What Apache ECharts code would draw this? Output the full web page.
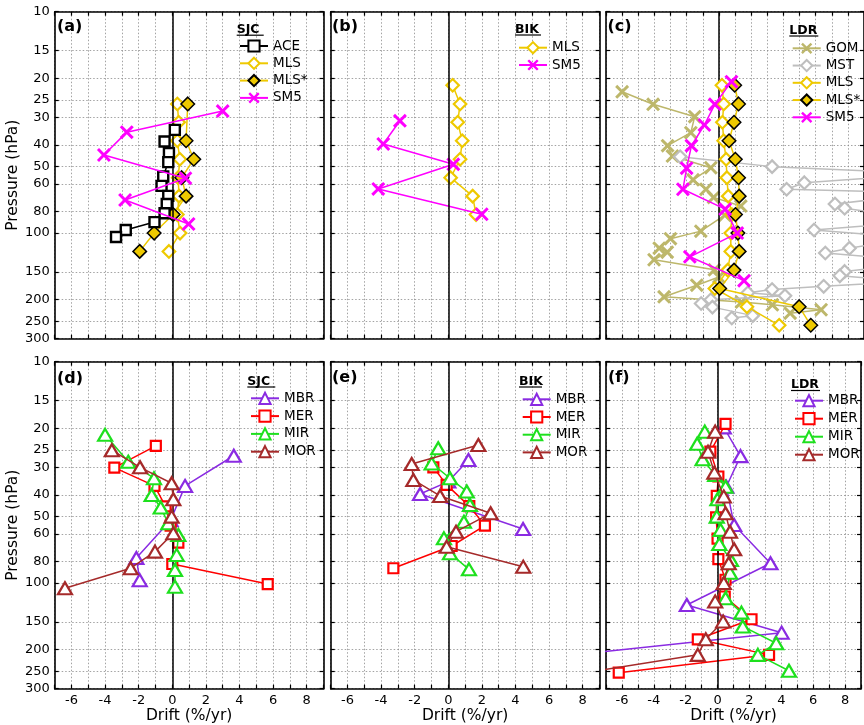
<!DOCTYPE html>
<html><head><meta charset="utf-8">
<script src="https://cdn.jsdelivr.net/npm/echarts@6/dist/echarts.min.js"></script>
<style>html,body{margin:0;padding:0;background:#fff}#c{width:864px;height:725px}</style>
</head><body><div id="c"></div>
<script>
// ---------------- DATA (each point = [drift %/yr, pressure hPa]) ----------------
const pressureTicks = [10, 15, 20, 25, 30, 40, 50, 60, 80, 100, 150, 200, 250, 300];
const panelLetters = ['(a)', '(b)', '(c)', '(d)', '(e)', '(f)'];
const stations = ['SJC', 'BIK', 'LDR', 'SJC', 'BIK', 'LDR'];

// (a) SJC
const a_ACE  = [[0.15,34.2],[-0.46,38.6],[-0.2,43.5],[-0.24,47.8],[-0.54,55.5],[-0.64,61.2],[-0.24,67.9],[-0.33,73.9],[-0.46,81.4],[-1.06,89.2],[-2.77,96.8],[-3.35,104.2]];
const a_MLS  = [[0.3,26.1],[0.38,31.6],[0.3,38.3],[0.45,46.4],[0.35,56.2],[0.4,68.1],[0.3,82.5],[0.46,100],[-0.2,121]];
const a_MLSs = [[0.92,26.1],[0.82,38.3],[1.28,46.4],[0.56,56.2],[0.82,68.1],[0.05,82.5],[-1.08,100],[-1.94,121]];
const a_SM5  = [[3.0,28.1],[-2.71,35.0],[-4.07,44.4],[0.78,56.5],[-2.81,70.9],[0.97,91.0]];

// (b) BIK
const b_MLS = [[0.26,21.5],[0.7,26.1],[0.56,31.6],[0.83,38.3],[0.7,46.4],[0.14,56.2],[1.45,68.1],[1.65,82.5]];
const b_SM5 = [[-2.88,31.1],[-3.87,39.6],[0.3,48.9],[-4.17,63.2],[1.99,82.2]];

// (c) LDR
const c_GOM = [[-6.0,23.0],[-4.08,26.2],[-1.5,29.8],[-1.74,35.2],[-3.18,40.3],[-2.88,44.9],[-0.5,50.7],[-1.6,57.5],[-0.8,63.4],[-0.33,69.0],[1.36,75.5],[0.37,83.0],[-1.12,98.0],[-3.0,106],[-3.7,117],[-3.2,122],[-4.02,132],[-0.28,146.5],[0.0,158],[-1.37,172],[-3.4,194],[1.4,205],[3.32,211],[6.34,222],[4.42,230]];
const c_MST = [[-2.4,45.2],[3.3,50.1],[13,54],[5.3,59.2],[4.2,63.4],[13,66],[7.2,73.9],[7.8,77.2],[13,88],[5.9,96.8],[12,105],[8.1,117],[6.6,123],[13,135],[7.8,149],[7.5,156],[12,165],[6.5,174],[3.3,180],[1.8,186],[4.1,192],[-0.5,200],[-1.1,208],[-0.4,216],[2.1,236],[0.8,242]];
const c_MLS  = [[0.19,21.5],[0.3,26.1],[0.22,31.6],[0.3,38.3],[0.45,46.4],[0.5,56.2],[0.58,68.1],[0.8,82.5],[0.74,100],[0.74,121],[0.55,147],[-0.25,178],[1.74,215],[3.74,261]];
const c_MLSs = [[0.98,21.5],[1.22,26.1],[0.94,31.6],[0.63,38.3],[1.02,46.4],[1.22,56.2],[1.26,68.1],[1.03,82.5],[1.18,100],[1.26,121],[0.94,147],[0.05,178],[4.98,215],[5.7,261]];
const c_SM5  = [[0.78,20.7],[-0.25,26.2],[-0.9,32.5],[-1.7,40.3],[-2.0,50.9],[-2.23,63.4],[0.39,78],[1.14,100],[-1.8,128],[1.56,164]];

// (d) SJC
const d_MBR = [[3.66,26.6],[0.76,36.4],[-0.1,52],[-2.14,77],[-1.94,97]];
const d_MER = [[-0.98,24.0],[-3.45,30.1],[-1.06,36.4],[-0.4,45],[-0.1,55],[0.36,65.7],[0.0,82],[5.68,101]];
const d_MIR = [[-4.0,21.4],[-2.62,28.3],[-1.09,33.6],[-1.23,40],[-0.69,45.6],[-0.24,53.7],[0.36,60.6],[0.26,74.6],[0.16,87.3],[0.16,103.8]];
const d_MOR = [[-3.6,25.1],[-1.92,30],[-0.04,35.4],[0.06,41.8],[-0.04,50.1],[0.06,59.6],[-1.03,72.1],[-2.48,85.7],[-6.39,105.6]];

// (e) BIK
const e_MBR = [[1.2,27.8],[0.0,34.8],[-1.68,39.6],[4.45,57]];
const e_MER = [[-0.89,30],[-0.1,36],[1.25,44.9],[2.18,55],[0.2,68],[-3.27,85.7]];
const e_MIR = [[-0.6,24.6],[-0.99,28.8],[0.1,33.6],[1.1,38.6],[1.29,44.4],[0.93,52.8],[-0.26,62.8],[0.1,73.4],[1.23,86.7]];
const e_MOR = [[1.79,23.8],[-2.18,29],[-2.08,34.2],[-0.49,40.4],[2.52,48.4],[0.46,58.6],[-0.1,68.5],[4.46,84.3]];

// (f) LDR
const f_MBR = [[0.39,19.8],[1.44,26.7],[0.55,36.7],[1.04,54.7],[3.32,81.4],[-1.93,125.6],[4.02,167.5],[-8.7,210]];
const f_MER = [[0.5,19.1],[-0.45,25.5],[0.05,33],[-0.05,40.4],[-0.09,50.5],[0.0,63],[0.05,78],[0.5,96.6],[0.45,115],[2.13,145.7],[-1.24,179.5],[3.23,211],[-6.2,254]];
const f_MIR = [[-0.8,20.7],[-1.28,23.5],[-0.94,27.6],[-0.15,32.5],[0.5,36.7],[-0.01,41.8],[-0.05,50.1],[0.19,57.5],[0.11,66.6],[0.84,78.6],[0.78,89.8],[0.5,117],[1.5,136],[1.58,157],[3.68,187],[2.53,211],[4.48,249]];
const f_MOR = [[-0.15,20.7],[-0.6,25.5],[-0.2,31.7],[0.39,40.6],[0.5,48.4],[0.78,58.6],[1.04,70.3],[0.7,81.4],[0.39,100],[-0.15,121],[0.35,149],[-0.74,179.5],[-1.24,211],[-7.7,250]];

// ---------------- STYLE / LAYOUT ----------------
const FONT = '"DejaVu Sans", sans-serif';
const XPATH = 'path://M0,1.5L1.5,0L5,3.5L8.5,0L10,1.5L6.5,5L10,8.5L8.5,10L5,6.5L1.5,10L0,8.5L3.5,5Z';
const STY = {
  ACE:   {symbol:'rect', size:10, fill:'#fff', stroke:'#000', bw:2.4, line:'#000'},
  MLS:   {symbol:'diamond', size:12.5, fill:'#fff', stroke:'#EEC900', bw:2.2, line:'#EEC900'},
  'MLS*':{symbol:'diamond', size:13.5, fill:'#EEC900', stroke:'#000', bw:1.5, line:'#EEC900'},
  SM5:   {symbol:XPATH, size:14, fill:'#FF00FF', stroke:'#FF00FF', bw:0, line:'#FF00FF'},
  GOM:   {symbol:XPATH, size:14, fill:'#BDB76B', stroke:'#BDB76B', bw:0, line:'#BDB76B'},
  MST:   {symbol:'diamond', size:12.5, fill:'#fff', stroke:'#BEBEBE', bw:2.2, line:'#BEBEBE'},
  MBR:   {symbol:'triangle', size:[14,12], fill:'#fff', stroke:'#8A2BE2', bw:2.2, line:'#8A2BE2'},
  MER:   {symbol:'rect', size:10, fill:'#fff', stroke:'#FF0000', bw:2.2, line:'#FF0000'},
  MIR:   {symbol:'triangle', size:[14,12], fill:'#fff', stroke:'#1EE01E', bw:2.2, line:'#1EE01E'},
  MOR:   {symbol:'triangle', size:[14,12], fill:'#fff', stroke:'#A52A2A', bw:2.2, line:'#A52A2A'}
};
const layout = [
  {left:54.7, top:11.7}, {left:330.7, top:11.7}, {left:606, top:11.7},
  {left:54.7, top:361.7}, {left:330.7, top:361.7}, {left:606, top:361.7}
];
const GW = 268.8, GH = 327;

// series (draw order) and legend (display order) per panel
const panelSeries = [
  [['MLS',a_MLS],['MLS*',a_MLSs],['ACE',a_ACE],['SM5',a_SM5]],
  [['MLS',b_MLS],['SM5',b_SM5]],
  [['GOM',c_GOM],['MST',c_MST],['MLS',c_MLS],['MLS*',c_MLSs],['SM5',c_SM5]],
  [['MBR',d_MBR],['MER',d_MER],['MIR',d_MIR],['MOR',d_MOR]],
  [['MBR',e_MBR],['MER',e_MER],['MIR',e_MIR],['MOR',e_MOR]],
  [['MBR',f_MBR],['MER',f_MER],['MIR',f_MIR],['MOR',f_MOR]]
];
const legendNames = [
  ['ACE','MLS','MLS*','SM5'], ['MLS','SM5'], ['GOM','MST','MLS','MLS*','SM5'],
  ['MBR','MER','MIR','MOR'], ['MBR','MER','MIR','MOR'], ['MBR','MER','MIR','MOR']
];
const legendPos = [
  {left:239, top:39, gap:3.3}, {left:518, top:40.7, gap:3.3}, {left:791.7, top:41.3, gap:3.25},
  {left:250, top:391.3, gap:3.8}, {left:521.7, top:392.3, gap:3.7}, {left:794, top:393.7, gap:4.0}
];
const letterPos = [[57,26.5],[332,26.5],[607.5,26.5],[57,378.5],[332,378],[608,378]];
const stationPos = [[236.7,29.7,27],[515,29.5,26],[789.3,30.5,29],[247.3,381.5,28],[519,381.5,23],[791,385,29]];

const grid = [], xAxis = [], yAxis = [], series = [], legend = [], graphic = [];
const axisLineStyle = {color:'#000', width:1.6};
const tickStyle = {color:'#000', width:1.2};
const gridLineStyle = {color:'#8c8c8c', width:0.8, type:[1.5,2]};

for (let i = 0; i < 6; i++) {
  grid.push({left:layout[i].left, top:layout[i].top, width:GW, height:GH, containLabel:false});
}
for (let i = 0; i < 12; i++) {
  const g = i % 6, top = i >= 6;
  xAxis.push({
    gridIndex:g, type:'value', min:-7, max:9, interval:1,
    position: top ? 'top' : 'bottom',
    axisLine:{show:true, onZero:false, lineStyle:axisLineStyle},
    axisTick:{show:true, inside:true, length:4, lineStyle:tickStyle},
    axisLabel:{show: !top && g >= 3, margin:5, color:'#000', fontSize:13, fontFamily:FONT,
      formatter: v => (Math.round(v) % 2 === 0 ? String(Math.round(v)) : '')},
    splitLine:{show: !top, lineStyle:gridLineStyle},
    name: (!top && g >= 3) ? 'Drift (%/yr)' : '',
    nameLocation:'middle', nameGap:19,
    nameTextStyle:{fontSize:15.5, color:'#000', fontFamily:FONT}
  });
  yAxis.push({
    gridIndex:g, type:'log', logBase:10, min:10, max:300, inverse:true,
    position: top ? 'right' : 'left',
    axisLine:{show:true, onZero:false, lineStyle:axisLineStyle},
    axisTick:{show:true, inside:true, length:4, lineStyle:tickStyle, customValues:pressureTicks},
    axisLabel:{show: !top && g % 3 === 0, margin:5, color:'#000', fontSize:13, fontFamily:FONT,
      customValues:pressureTicks, formatter: v => String(Math.round(v))},
    splitLine:{show: !top, lineStyle:gridLineStyle},
    minorTick:{show:false},
    name: (!top && g % 3 === 0) ? 'Pressure (hPa)' : '',
    nameLocation:'middle', nameGap:29, nameRotate:90,
    nameTextStyle:{fontSize:15.5, color:'#000', fontFamily:FONT}
  });
}

for (let g = 0; g < 6; g++) {
  panelSeries[g].forEach((pair, k) => {
    const name = pair[0], data = pair[1], s = STY[name];
    const ser = {
      type:'line', name:name, data:data, xAxisIndex:g, yAxisIndex:g,
      symbol:s.symbol, symbolSize:s.size, showSymbol:true, clip:true,
      lineStyle:{color:s.line, width:1.5},
      itemStyle:{color:s.fill, borderColor:s.stroke, borderWidth:s.bw},
      emphasis:{disabled:true}, animation:false, z:3 + k
    };
    if (k === 0) {
      ser.markLine = {silent:true, symbol:'none', label:{show:false}, animation:false,
        lineStyle:{color:'#000', width:1.5, type:'solid'}, data:[{xAxis:0}]};
    }
    series.push(ser);
  });
  legend.push({
    data: legendNames[g], orient:'vertical', left:legendPos[g].left, top:legendPos[g].top,
    itemWidth:28, itemHeight:14, itemGap:legendPos[g].gap, padding:0, selectedMode:false,
    textStyle:{fontSize:13.5, fontFamily:FONT, color:'#000', lineHeight:14}
  });
  graphic.push({type:'text', x:letterPos[g][0], y:letterPos[g][1], z:100,
    style:{text:panelLetters[g], font:'bold 16px ' + FONT, fill:'#000', textVerticalAlign:'middle', textAlign:'left'}});
  const sp = stationPos[g];
  graphic.push({type:'text', x:sp[0], y:sp[1], z:100,
    style:{text:stations[g], font:'bold 12.5px ' + FONT, fill:'#000', textVerticalAlign:'middle', textAlign:'left'}});
  graphic.push({type:'line', z:100, shape:{x1:sp[0], y1:sp[1] + 5.5, x2:sp[0] + sp[2], y2:sp[1] + 5.5},
    style:{stroke:'#000', lineWidth:1.2}});
}

const chart = echarts.init(document.getElementById('c'), null, {renderer:'canvas'});
chart.setOption({
  animation:false, backgroundColor:'#fff',
  grid:grid, xAxis:xAxis, yAxis:yAxis, series:series, legend:legend, graphic:graphic
});
</script></body></html>
